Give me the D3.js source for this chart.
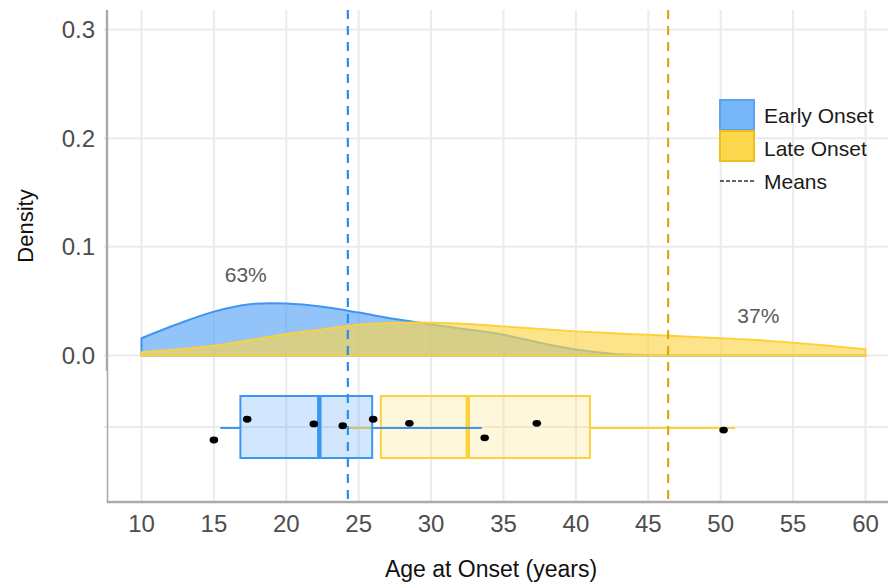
<!DOCTYPE html>
<html>
<head>
<meta charset="utf-8">
<script src="https://cdn.jsdelivr.net/npm/d3@7"></script>
<style>
  html, body { margin: 0; padding: 0; background: #fff; }
  svg { display: block; font-family: "Liberation Sans", Arial, sans-serif; }
</style>
</head>
<body>
<svg id="chart" width="888" height="584"></svg>
<script>
// ---------------- data ----------------
const ageGrid = [10, 12.5, 15, 17.5, 20, 22.5, 25, 27.5, 30, 32.5, 35, 37.5, 40, 42.5, 45, 47.5, 50, 52.5, 55, 57.5, 60];
const earlyDensity = [0.0159, 0.029, 0.0404, 0.0472, 0.0478, 0.0448, 0.0395, 0.0335, 0.0285, 0.024, 0.019, 0.0118, 0.0055, 0.0016, 0.0003, 0, 0, 0, 0, 0, 0];
const lateDensity  = [0.003, 0.0055, 0.009, 0.014, 0.0196, 0.024, 0.0283, 0.030, 0.0302, 0.029, 0.0268, 0.0245, 0.0222, 0.0205, 0.019, 0.0175, 0.0159, 0.0142, 0.0118, 0.009, 0.0057];

const groups = ["Early Onset", "Late Onset"];
// min whisker, Q1, median, Q3, max whisker
const earlyBox = [15.45, 16.83, 22.28, 25.93, 33.5];
const lateBox  = [23.6, 26.53, 32.53, 40.97, 51.0];
const groupMeans = [24.25, 46.37];
const groupShares = ["63%", "37%"];
const shareLabelAge = [17.2, 52.6];
const shareLabelDensity = [0.075, 0.037];

const pointAges   = [15.0, 17.3, 21.9, 23.9, 26.0, 28.5, 33.7, 37.3, 50.2];
const pointJitter = [0.42, -0.25, -0.10, -0.04, -0.25, -0.12, 0.35, -0.12, 0.10];

const xTicks = [10, 15, 20, 25, 30, 35, 40, 45, 50, 55, 60];
const yTicks = [0.0, 0.1, 0.2, 0.3];

// ---------------- styles ----------------
const blueStroke = "#3f95f2", blueFill = "#4a9df7";
const yellowStroke = "#fcd23c", yellowFill = "#fcd64b";
const blueMean = "#2c8cf0", yellowMean = "#dfa90c";
const gridCol = "#ebebeb", axisCol = "#aaaaaa", textCol = "#4d4d4d";

// ---------------- layout ----------------
const svg = d3.select("#chart");
const plotL = 107, plotR = 888, plotT = 10, panelSplit = 371, plotB = 502;

const x = d3.scaleLinear().domain([10, 60]).range([141.5, 865.5]);
const y = d3.scaleLinear().domain([0, 0.3]).range([355.5, 29.5]);
const boxCenter = 427, boxHalf = 31;
const yj = d3.scaleLinear().domain([-1, 1]).range([boxCenter - boxHalf, boxCenter + boxHalf]);

// grid
const grid = svg.append("g");
grid.selectAll("line.v").data(xTicks).enter().append("line")
  .attr("x1", d => x(d)).attr("x2", d => x(d))
  .attr("y1", plotT).attr("y2", plotB)
  .attr("stroke", gridCol).attr("stroke-width", 2);
grid.selectAll("line.h").data(yTicks).enter().append("line")
  .attr("x1", plotL - 3).attr("x2", plotR)
  .attr("y1", d => y(d)).attr("y2", d => y(d))
  .attr("stroke", gridCol).attr("stroke-width", 2);
grid.append("line")
  .attr("x1", plotL - 3).attr("x2", plotR)
  .attr("y1", boxCenter).attr("y2", boxCenter)
  .attr("stroke", gridCol).attr("stroke-width", 2);

// densities
const earlyPts = ageGrid.map((a, i) => [a, earlyDensity[i]]);
const latePts = ageGrid.map((a, i) => [a, lateDensity[i]]);
const area = d3.area().x(d => x(d[0])).y0(y(0)).y1(d => Math.min(y(0), y(d[1]))).curve(d3.curveCatmullRom.alpha(0.5));

svg.append("path").datum(earlyPts).attr("d", area)
  .attr("fill", blueFill).attr("fill-opacity", 0.6)
  .attr("stroke", blueStroke).attr("stroke-width", 2).attr("stroke-linejoin", "round");
svg.append("path").datum(latePts).attr("d", area)
  .attr("fill", yellowFill).attr("fill-opacity", 0.65)
  .attr("stroke", yellowStroke).attr("stroke-width", 2).attr("stroke-linejoin", "round");

// share labels
svg.selectAll("text.share").data(groupShares).enter().append("text")
  .attr("x", (d, i) => x(shareLabelAge[i])).attr("y", (d, i) => y(shareLabelDensity[i]))
  .attr("text-anchor", "middle").attr("dominant-baseline", "central")
  .attr("font-size", 21).attr("fill", "#5a5a5a").text(d => d);

// boxplots
function drawBox(stats, stroke, fill, fillOp) {
  const g = svg.append("g");
  g.append("line").attr("x1", x(stats[0])).attr("x2", x(stats[1]))
    .attr("y1", boxCenter + 1).attr("y2", boxCenter + 1).attr("stroke", stroke).attr("stroke-width", 2);
  g.append("line").attr("x1", x(stats[3])).attr("x2", x(stats[4]))
    .attr("y1", boxCenter + 1).attr("y2", boxCenter + 1).attr("stroke", stroke).attr("stroke-width", 2);
  g.append("rect").attr("x", x(stats[1])).attr("y", boxCenter - boxHalf)
    .attr("width", x(stats[3]) - x(stats[1])).attr("height", 2 * boxHalf)
    .attr("fill", fill).attr("fill-opacity", fillOp)
    .attr("stroke", stroke).attr("stroke-width", 2);
  g.append("line").attr("x1", x(stats[2])).attr("x2", x(stats[2]))
    .attr("y1", boxCenter - boxHalf).attr("y2", boxCenter + boxHalf)
    .attr("stroke", stroke).attr("stroke-width", 4.5);
}
drawBox(lateBox, yellowStroke, yellowFill, 0.2);
drawBox(earlyBox, blueStroke, blueFill, 0.25);

// points
svg.selectAll("ellipse.pt").data(pointAges).enter().append("ellipse")
  .attr("cx", d => x(d)).attr("cy", (d, i) => yj(pointJitter[i]))
  .attr("rx", 4.3).attr("ry", 3.4).attr("fill", "#000");

// mean lines
svg.selectAll("line.mean").data(groupMeans).enter().append("line")
  .attr("x1", d => x(d)).attr("x2", d => x(d))
  .attr("y1", plotT).attr("y2", plotB)
  .attr("stroke", (d, i) => i === 0 ? blueMean : yellowMean)
  .attr("stroke-width", 2.2).attr("stroke-dasharray", "9,7");

// axes lines
svg.append("line").attr("x1", plotL).attr("x2", plotL).attr("y1", plotT).attr("y2", panelSplit)
  .attr("stroke", axisCol).attr("stroke-width", 2.4);
svg.append("line").attr("x1", plotL + 0.5).attr("x2", plotL + 0.5).attr("y1", panelSplit).attr("y2", plotB)
  .attr("stroke", axisCol).attr("stroke-width", 1.6);
svg.append("line").attr("x1", plotL - 0.3).attr("x2", plotR).attr("y1", plotB).attr("y2", plotB)
  .attr("stroke", axisCol).attr("stroke-width", 2.4);

// tick labels
svg.selectAll("text.xt").data(xTicks).enter().append("text")
  .attr("x", d => x(d)).attr("y", 532)
  .attr("text-anchor", "middle").attr("font-size", 24).attr("fill", textCol)
  .text(d => d);
svg.selectAll("text.yt").data(yTicks).enter().append("text")
  .attr("x", 95).attr("y", d => y(d))
  .attr("text-anchor", "end").attr("dominant-baseline", "central")
  .attr("font-size", 24).attr("fill", textCol)
  .text(d => d3.format(".1f")(d));

// axis titles
svg.append("text").attr("transform", "translate(25,226) rotate(-90)")
  .attr("text-anchor", "middle").attr("dominant-baseline", "central")
  .attr("font-size", 22).attr("fill", "#111").text("Density");
svg.append("text").attr("x", 491).attr("y", 577)
  .attr("text-anchor", "middle").attr("font-size", 23).attr("fill", "#111")
  .text("Age at Onset (years)");

// legend
const lg = svg.append("g");
const keyFills = [blueFill, yellowFill];
const keyStrokes = ["#5aa3ef", "#eebf1a"];
const keyOps = [0.75, 1];
groups.forEach((gname, i) => {
  lg.append("rect").attr("x", 720).attr("y", 100 + i * 31).attr("width", 34).attr("height", 30)
    .attr("fill", keyFills[i]).attr("fill-opacity", keyOps[i])
    .attr("stroke", keyStrokes[i]).attr("stroke-width", 2);
  lg.append("text").attr("x", 764).attr("y", 115 + i * 33)
    .attr("dominant-baseline", "central").attr("font-size", 21).attr("fill", "#1a1a1a").text(gname);
});
lg.append("line").attr("x1", 720).attr("x2", 754).attr("y1", 181).attr("y2", 181)
  .attr("stroke", "#333").attr("stroke-width", 1.5).attr("stroke-dasharray", "4,2");
lg.append("text").attr("x", 764).attr("y", 181)
  .attr("dominant-baseline", "central").attr("font-size", 21).attr("fill", "#1a1a1a").text("Means");
</script>
</body>
</html>
